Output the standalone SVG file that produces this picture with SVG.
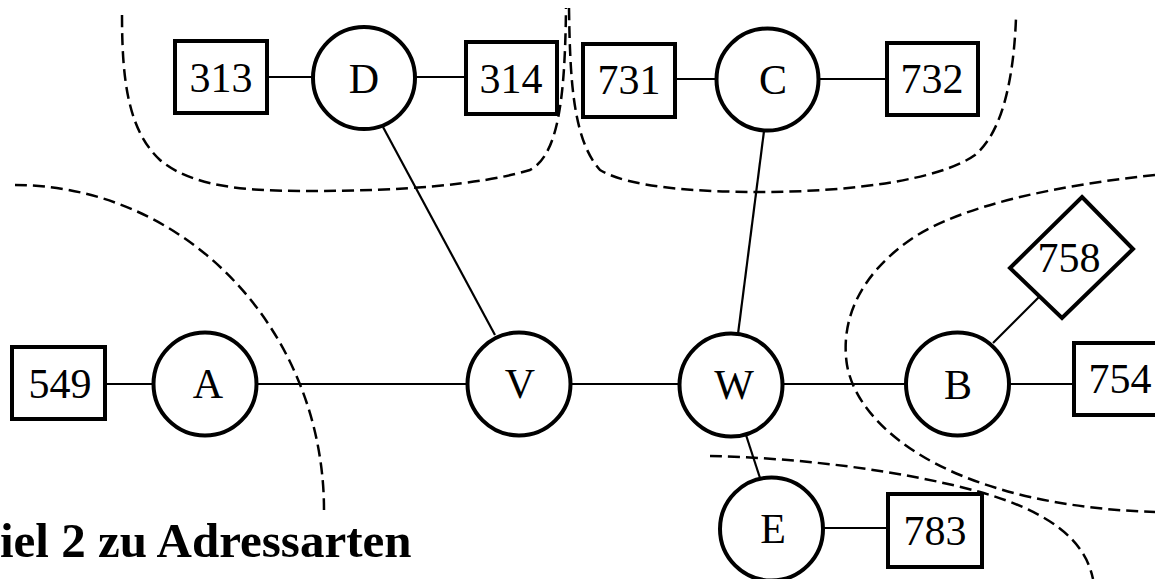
<svg xmlns="http://www.w3.org/2000/svg" width="1155" height="579" viewBox="0 0 1155 579">
<style>
.n{fill:#fff;stroke:#000;stroke-width:4}
.b{fill:#fff;stroke:#000;stroke-width:4}
.t{font-family:"Liberation Serif","Times New Roman",serif;font-size:42px;text-anchor:middle;fill:#000}
.c{stroke:#000;stroke-width:2.2;fill:none}
.d{stroke:#000;stroke-width:2.5;fill:none;stroke-dasharray:12 6}
</style>
<rect width="1155" height="579" fill="#fff"/>
<g id="regions">
<path class="d" d="M122,15 C122,80 128,130 160,160 C195,190 260,191 310,191 C400,191 480,185 530,170 C558,155 565,100 566,8"/>
<path class="d" d="M569,8 C570,80 573,140 600,170 C630,188 700,192 760,192 C850,192 940,180 975,155 C1005,130 1014,70 1016,18"/>
<path class="d" d="M15,185 A309,325 0 0 1 324,510"/>
<path class="d" d="M1155,175 C1060,185 960,205 910,240 C860,275 840,320 847,365 C855,410 900,450 960,475 C1020,500 1090,510 1155,512"/>
<path class="d" d="M710,456 C800,458 900,470 980,492 C1050,512 1085,540 1093,579"/>
</g>
<g id="connectors">
<line class="c" x1="267" y1="77" x2="313" y2="77"/>
<line class="c" x1="415" y1="77" x2="466" y2="77"/>
<line class="c" x1="675" y1="79" x2="716" y2="79"/>
<line class="c" x1="819" y1="79" x2="887" y2="79"/>
<line class="c" x1="383" y1="127" x2="495" y2="335"/>
<line class="c" x1="764" y1="131" x2="738" y2="334"/>
<line class="c" x1="105" y1="384" x2="153" y2="384"/>
<line class="c" x1="257" y1="384" x2="467" y2="384"/>
<line class="c" x1="571" y1="384" x2="679" y2="384"/>
<line class="c" x1="783" y1="384" x2="906" y2="384"/>
<line class="c" x1="1009" y1="384" x2="1074" y2="384"/>
<line class="c" x1="993" y1="343" x2="1039" y2="297"/>
<line class="c" x1="746" y1="435" x2="760" y2="478"/>
<line class="c" x1="823" y1="528" x2="888" y2="528"/>
</g>
<g id="n313"><rect class="b" x="175" y="41" width="92" height="72"/><text class="t" x="221" y="92">313</text></g>
<g id="nD"><circle class="n" cx="364" cy="78" r="51"/><text class="t" x="364" y="93">D</text></g>
<g id="n314"><rect class="b" x="466" y="42" width="91" height="72"/><text class="t" x="511" y="93">314</text></g>
<g id="n731"><rect class="b" x="583" y="44" width="92" height="73"/><text class="t" x="629" y="94">731</text></g>
<g id="nC"><circle class="n" cx="767.5" cy="79.5" r="51"/><text class="t" x="773" y="94">C</text></g>
<g id="n732"><rect class="b" x="887" y="43" width="91" height="72"/><text class="t" x="932" y="93">732</text></g>
<g id="n549"><rect class="b" x="12" y="347" width="93" height="72"/><text class="t" x="60" y="398">549</text></g>
<g id="nA"><circle class="n" cx="205" cy="384" r="51.5"/><text class="t" x="208" y="398">A</text></g>
<g id="nV"><circle class="n" cx="519" cy="384" r="51.5"/><text class="t" x="520" y="398">V</text></g>
<g id="nW"><circle class="n" cx="731" cy="385" r="51.5"/><text class="t" x="734" y="399">W</text></g>
<g id="nB"><circle class="n" cx="957.5" cy="384" r="51.5"/><text class="t" x="958" y="399">B</text></g>
<g id="n754"><rect class="b" x="1074" y="343" width="92" height="72"/><text class="t" x="1120" y="393">754</text></g>
<g id="n758"><polygon class="b" points="1082,197 1133,249 1062,318 1010,268"/><text class="t" x="1069" y="272">758</text></g>
<g id="nE"><circle class="n" cx="771.5" cy="529" r="51.5"/><text class="t" x="773" y="543">E</text></g>
<g id="n783"><rect class="b" x="888" y="494" width="94" height="73"/><text class="t" x="935" y="545">783</text></g>
<text x="0" y="557" font-family="Liberation Serif,'Times New Roman',serif" font-weight="bold" font-size="49">iel 2 zu Adressarten</text>
</svg>
